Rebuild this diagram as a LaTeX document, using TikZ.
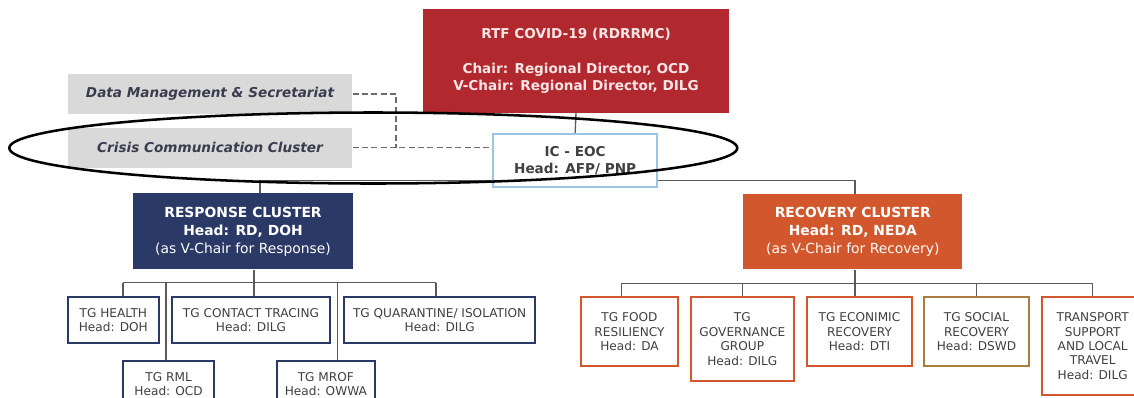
\documentclass[tikz,border=0pt]{standalone}
\usepackage{fontspec}
\setmainfont{DejaVu Sans}[ItalicFont={DejaVu Sans Oblique},BoldFont={DejaVu Sans Bold},BoldItalicFont={DejaVu Sans Bold Oblique}]
\usetikzlibrary{backgrounds}
\definecolor{rtfred}{HTML}{B1282F}
\definecolor{rtftext}{HTML}{FBE6E6}
\definecolor{navy}{HTML}{2B3967}
\definecolor{recorange}{HTML}{D3572C}
\definecolor{socialc}{HTML}{A87E40}
\definecolor{icblue}{HTML}{9DC3E6}
\definecolor{mgray}{HTML}{D9D9D9}
\definecolor{dmtext}{HTML}{3B3B4E}
\definecolor{tgtext}{HTML}{404040}
\definecolor{linkgray}{HTML}{5A5A5A}
\newcommand\myfontbig{\fontsize{10.2}{12.75}\selectfont}
\newcommand\myfontclu{\fontsize{10.4}{13.5}\selectfont}
\newcommand\myfonttg{\fontsize{9.1}{10.8}\selectfont}
\begin{document}
\begin{tikzpicture}[x=0.75pt,y=-0.75pt,
  boxbase/.style={inner sep=0pt,align=center,rectangle},
  sz/.style 2 args={minimum width=#1,minimum height=#2},
  topbox/.style={boxbase,fill=rtfred,text=rtftext,font=\bfseries\myfontbig},
  icbox/.style={boxbase,fill=white,draw=icblue,line width=1.5pt,text=tgtext,font=\bfseries\myfontbig},
  sidebox/.style={boxbase,fill=mgray,text=dmtext,font=\bfseries\itshape\myfontbig},
  clubox/.style={boxbase,text=white,font=\myfontclu},
  tgbox/.style={boxbase,fill=white,line width=1.5pt,text=tgtext,font=\myfonttg},
  resptg/.style={tgbox,draw=navy},
  rectg/.style={tgbox,draw=recorange},
  link/.style={draw=linkgray,line width=1pt},
  dashlink/.style={draw=linkgray!90,line width=0.9pt,dash pattern=on 4.5pt off 2.5pt}
]
\useasboundingbox (0,0) rectangle (1134,397);

% top level
\node[topbox,sz={229.5pt}{77.4pt}] (rtf) at (576,60.9) {RTF COVID-19 (RDRRMC)\\[14pt]Chair: Regional Director, OCD\\V-Chair: Regional Director, DILG};
\node[icbox,sz={122.8pt}{40.1pt}] (ic) at (575.15,160.75) {IC - EOC\\Head: AFP/ PNP};
\node[sidebox,sz={213.45pt}{30pt}] (dm) at (210,94) {Data Management \& Secretariat};
\node[sidebox,sz={213.45pt}{30pt}] (cc) at (210,147.7) {Crisis Communication Cluster};

% clusters
\node[clubox,fill=navy,sz={164.55pt}{57pt}] (resp) at (243,231.3) {\textbf{RESPONSE CLUSTER}\\\textbf{Head: RD, DOH}\\(as V-Chair for Response)};
\node[clubox,fill=recorange,sz={164.25pt}{56.5pt}] (rec) at (852.8,231.65) {\textbf{RECOVERY CLUSTER}\\\textbf{Head: RD, NEDA}\\(as V-Chair for Recovery)};

% response task groups
\node[resptg,sz={68.5pt}{34.95pt}] (health) at (113.35,320) {TG HEALTH\\Head: DOH};
\node[resptg,sz={118.5pt}{34.95pt}] (contact) at (251,320) {TG CONTACT TRACING\\Head: DILG};
\node[resptg,sz={143pt}{34.95pt}] (quar) at (439.65,320) {TG QUARANTINE/ ISOLATION\\Head: DILG};
\node[resptg,sz={68pt}{34.95pt}] (rml) at (168.65,384) {TG RML\\Head: OCD};
\node[resptg,sz={73.7pt}{34.95pt}] (mrof) at (325.85,384) {TG MROF\\Head: OWWA};

% recovery task groups
\node[rectg,sz={73.2pt}{51.5pt}] (food) at (629.5,331.65) {TG FOOD\\RESILIENCY\\Head: DA};
\node[rectg,sz={77.5pt}{62.8pt}] (gov) at (742.35,339.15) {TG\\GOVERNANCE\\GROUP\\Head: DILG};
\node[rectg,sz={78.3pt}{51.5pt}] (econ) at (859.5,331.65) {TG ECONIMIC\\RECOVERY\\Head: DTI};
\node[tgbox,draw=socialc,sz={78.75pt}{51.5pt}] (social) at (976.5,331.65) {TG SOCIAL\\RECOVERY\\Head: DSWD};
\node[rectg,sz={76.5pt}{73.3pt}] (trans) at (1092.7,346.15) {TRANSPORT\\SUPPORT\\AND LOCAL\\TRAVEL\\Head: DILG};

% junction coordinates
\coordinate (tl) at (260,180.5);
\coordinate (tr) at (855,180.5);
\coordinate (dj) at (396,147.7);
\coordinate (rb1) at (123,282.7);
\coordinate (rb2) at (166,282.7);
\coordinate (rb3) at (254,282.7);
\coordinate (rb4) at (337.3,282.7);
\coordinate (rb5) at (436,282.7);
\coordinate (cb1) at (621.7,283.3);
\coordinate (cb2) at (742.7,283.3);
\coordinate (cb3) at (855,283.3);
\coordinate (cb4) at (976.7,283.3);
\coordinate (cb5) at (1092.7,283.3);

\begin{scope}[on background layer]
  \draw[link] (rtf.south) -- (ic.north);
  \draw[link] (resp.north -| tl) -- (tl) -- (tr) -- (rec.north -| tr);
  \draw[dashlink] (dm.east) -| (dj);
  \draw[dashlink] (cc.east) -- (cc.east -| ic.west);
  % response bus
  \draw[link] (resp.south -| rb3) -- (rb3);
  \draw[link] (rb1) -- (rb5);
  \draw[link] (rb1) -- (rb1 |- health.north);
  \draw[link] (rb2) -- (rb2 |- rml.north);
  \draw[link] (rb3) -- (rb3 |- contact.north);
  \draw[link] (rb4) -- (rb4 |- mrof.north);
  \draw[link] (rb5) -- (rb5 |- quar.north);
  % recovery bus
  \draw[link] (rec.south -| cb3) -- (cb3);
  \draw[link] (cb1) -- (cb5);
  \draw[link] (cb1) -- (cb1 |- food.north);
  \draw[link] (cb2) -- (cb2 |- gov.north);
  \draw[link] (cb3) -- (cb3 |- econ.north);
  \draw[link] (cb4) -- (cb4 |- social.north);
  \draw[link] (cb5) -- (cb5 |- trans.north);
\end{scope}

% highlight ellipse
\draw[line width=1.9pt] (373.3,148) ellipse [x radius=364, y radius=35.5];
\end{tikzpicture}
\end{document}
